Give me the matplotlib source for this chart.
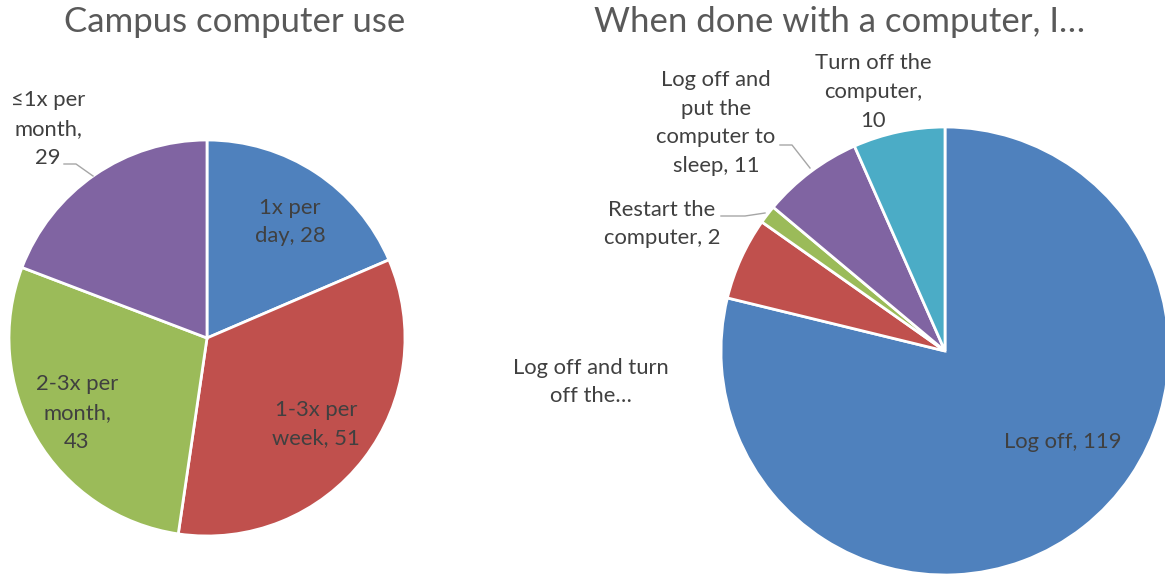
import matplotlib
matplotlib.use("Agg")
import matplotlib.pyplot as plt

# Campus computer use
use_labels = ["1x per\nday", "1-3x per\nweek", "2-3x per\nmonth,", "\u22641x per\nmonth,"]
use_values = [28, 51, 43, 29]

# When done with a computer, I...
done_labels = ["Log off", "Log off and turn\noff the\u2026", "Restart the\ncomputer",
               "Log off and\nput the\ncomputer to\nsleep", "Turn off the\ncomputer,"]
done_values = [119, 9, 2, 11, 10]

colors = ["#4F81BD", "#C0504D", "#9BBB59", "#8064A2", "#4BACC6"]
text_color = "#404040"
title_color = "#595959"
leader_color = "#A6A6A6"

plt.rcParams["font.family"] = ["Lato", "DejaVu Sans"]

W, H = 1165, 576
fig = plt.figure(figsize=(W / 100, H / 100), dpi=100)
ax = fig.add_axes([0, 0, 1, 1])

def draw_pie(center, radius, values, cols):
    # pie drawn in a y-down pixel frame: flip the direction so it still runs clockwise on screen
    ax.pie(values, colors=cols, startangle=-90, counterclock=True,
           center=center, radius=radius, frame=True,
           wedgeprops=dict(edgecolor="white", linewidth=2.0))

draw_pie((207, 338), 198, use_values, colors[:4])
draw_pie((945, 351), 224, done_values, colors)
ax.set_xlim(0, W)
ax.set_ylim(H, 0)
ax.set_aspect("equal")
ax.axis("off")

fs = 15.8
ls = 1.55

def label(x, y, s):
    ax.text(x, y, s, ha="center", va="center", fontsize=fs, color=text_color,
            linespacing=ls, multialignment="center")

# left pie labels
label(290, 222, f"{use_labels[0]}, {use_values[0]}")
label(316, 424, f"{use_labels[1]}, {use_values[1]}")
label(77, 413, f"{use_labels[2]}\n{use_values[2]}")
label(48, 129, f"{use_labels[3]}\n{use_values[3]}")
ax.plot([64, 76, 93], [164, 164, 176], color=leader_color, lw=1.0)

# right pie labels
label(1063, 442, f"{done_labels[0]}, {done_values[0]}")
label(591, 382, done_labels[1])
label(662, 224, f"{done_labels[2]}, {done_values[2]}")
ax.plot([721, 745, 765], [216, 216, 213], color=leader_color, lw=1.0)
label(716, 123, f"{done_labels[3]}, {done_values[3]}")
ax.plot([780, 792, 810], [145, 145, 168], color=leader_color, lw=1.0)
label(873, 92, f"{done_labels[4]}\n{done_values[4]}")

# titles
ax.text(235, 22, "Campus computer use", ha="center", va="center",
        fontsize=25, color=title_color)
ax.text(840, 22, "When done with a computer, I\u2026", ha="center", va="center",
        fontsize=25, color=title_color)

fig.savefig("out.png", dpi=100, facecolor="white")
